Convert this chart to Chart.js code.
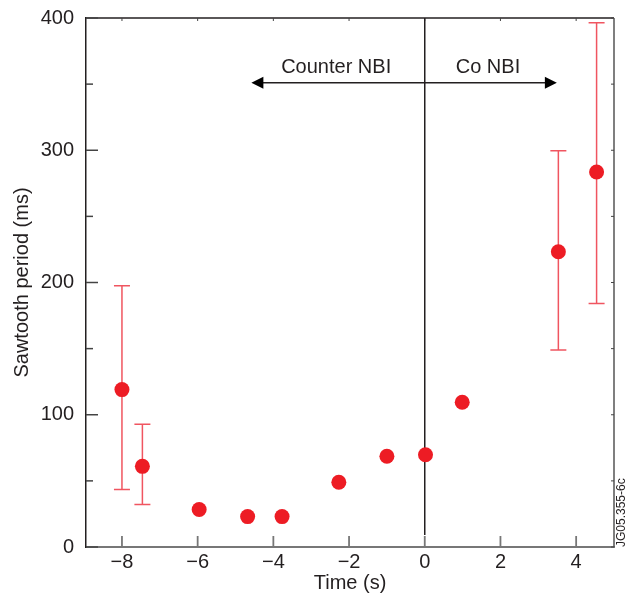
<!DOCTYPE html>
<html>
<head>
<meta charset="utf-8">
<script src="https://cdn.jsdelivr.net/npm/chart.js@4/dist/chart.umd.min.js"></script>
<style>
  html, body { margin: 0; padding: 0; background: #fff; }
  #wrap { width: 629px; height: 603px; }
</style>
</head>
<body>
<div id="wrap"><canvas id="chart" width="629" height="603"></canvas></div>
<script>
// ---- Data ----
const timeS    = [-8.0, -7.46, -5.96, -4.68, -3.77, -2.27, -1.0, 0.02, 0.99, 3.53, 4.54];
const periodMs = [119, 61, 28.4, 23, 23, 49, 68.6, 69.8, 109.5, 223.3, 283.5];
const errLow   = [43.5, 32.2, null, null, null, null, null, null, null, 148.9, 184.2];
const errHigh  = [197.6, 92.8, null, null, null, null, null, null, null, 299.6, 396.4];

// ---- Axes ----
const xTicks = [-8, -6, -4, -2, 0, 2, 4];
const yTicks = [0, 100, 200, 300, 400];
const yMinorTicks = [50, 150, 250, 350];
const X_MIN = -8.95, X_MAX = 5.0;
const Y_MIN = 0, Y_MAX = 400;

// ---- NBI direction annotation (data units) ----
const arrowY = 351;
const arrowFrom = -4.58, arrowTo = 3.49;
const nbiLabels = ["Counter NBI", "Co NBI"];
const nbiLabelX = [-2.34, 1.67];
const nbiLabelY = 362.7;
const figureId = "JG05.355-6c";

// ---- Style ----
const FONT = "'Liberation Sans', Arial, Helvetica, sans-serif";
const TEXT = "#231f20";
const MARKER = "#ed1c24";
const ERR = "#f05560";
const CAP = 8;

const overlay = {
  id: "overlay",
  beforeDatasetsDraw(chart) {
    const { ctx, chartArea: a, scales: { x, y } } = chart;
    ctx.save();

    // frame: top and right sides
    ctx.lineCap = "butt";
    ctx.strokeStyle = "#231f20";
    ctx.lineWidth = 1.5;
    ctx.beginPath();
    ctx.moveTo(a.left, a.top); ctx.lineTo(a.right, a.top);
    ctx.stroke();
    ctx.strokeStyle = "#555";
    ctx.beginPath();
    ctx.moveTo(a.right, a.top); ctx.lineTo(a.right, a.bottom);
    ctx.stroke();

    // inward ticks
    ctx.lineWidth = 1.5;
    ctx.strokeStyle = "#444";
    yTicks.forEach(v => {
      const py = y.getPixelForValue(v);
      ctx.beginPath(); ctx.moveTo(a.left, py); ctx.lineTo(a.left + 12, py); ctx.stroke();
    });
    yMinorTicks.forEach(v => {
      const py = y.getPixelForValue(v);
      ctx.beginPath(); ctx.moveTo(a.left, py); ctx.lineTo(a.left + 7, py); ctx.stroke();
    });
    ctx.lineWidth = 1;
    [...yTicks, ...yMinorTicks].forEach(v => {
      const py = y.getPixelForValue(v);
      ctx.beginPath(); ctx.moveTo(a.right, py); ctx.lineTo(a.right - 3, py); ctx.stroke();
    });
    xTicks.forEach(v => {
      const px = x.getPixelForValue(v);
      ctx.beginPath(); ctx.moveTo(px, a.top); ctx.lineTo(px, a.top + 3); ctx.stroke();
    });
    ctx.lineWidth = 1.8;
    ctx.strokeStyle = "#777";
    xTicks.forEach(v => {
      const px = x.getPixelForValue(v);
      ctx.beginPath(); ctx.moveTo(px, a.bottom); ctx.lineTo(px, a.bottom - 11); ctx.stroke();
    });

    // vertical line at t = 0
    const x0 = x.getPixelForValue(0);
    ctx.strokeStyle = "#231f20";
    ctx.lineWidth = 1.5;
    ctx.beginPath(); ctx.moveTo(x0, a.top); ctx.lineTo(x0, a.bottom - 12); ctx.stroke();

    // NBI arrow
    const ay = y.getPixelForValue(arrowY);
    const ax1 = x.getPixelForValue(arrowFrom), ax2 = x.getPixelForValue(arrowTo);
    ctx.beginPath(); ctx.moveTo(ax1 + 10, ay); ctx.lineTo(ax2 - 10, ay); ctx.stroke();
    ctx.fillStyle = "#000";
    ctx.beginPath();
    ctx.moveTo(ax1, ay); ctx.lineTo(ax1 + 12, ay - 6); ctx.lineTo(ax1 + 12, ay + 6); ctx.closePath();
    ctx.fill();
    ctx.beginPath();
    ctx.moveTo(ax2, ay); ctx.lineTo(ax2 - 12, ay - 6); ctx.lineTo(ax2 - 12, ay + 6); ctx.closePath();
    ctx.fill();

    ctx.fillStyle = TEXT;
    ctx.font = `20px ${FONT}`;
    ctx.textAlign = "center";
    ctx.textBaseline = "middle";
    nbiLabels.forEach((t, i) => {
      ctx.fillText(t, x.getPixelForValue(nbiLabelX[i]), y.getPixelForValue(nbiLabelY));
    });

    // error bars
    ctx.strokeStyle = ERR;
    ctx.lineWidth = 1.5;
    timeS.forEach((t, i) => {
      if (errLow[i] == null) return;
      const px = x.getPixelForValue(t);
      const y1 = y.getPixelForValue(errLow[i]);
      const y2 = y.getPixelForValue(errHigh[i]);
      ctx.beginPath();
      ctx.moveTo(px, y1); ctx.lineTo(px, y2);
      ctx.moveTo(px - CAP, y1); ctx.lineTo(px + CAP, y1);
      ctx.moveTo(px - CAP, y2); ctx.lineTo(px + CAP, y2);
      ctx.stroke();
    });

    // figure id, rotated
    ctx.fillStyle = TEXT;
    ctx.font = `12px ${FONT}`;
    ctx.translate(a.right + 8, a.bottom);
    ctx.rotate(-Math.PI / 2);
    ctx.textAlign = "left";
    ctx.textBaseline = "middle";
    ctx.fillText(figureId, 0, 0);

    ctx.restore();
  },
};

new Chart(document.getElementById("chart"), {
  type: "scatter",
  data: {
    datasets: [{
      data: timeS.map((t, i) => ({ x: t, y: periodMs[i] })),
      backgroundColor: MARKER,
      borderWidth: 0,
      pointRadius: 7.5,
      pointHoverRadius: 7.5,
    }],
  },
  options: {
    responsive: false,
    animation: false,
    events: [],
    layout: { padding: { top: 18, right: 15, left: 0, bottom: 0 } },
    plugins: { legend: { display: false }, tooltip: { enabled: false } },
    scales: {
      x: {
        type: "linear",
        min: X_MIN, max: X_MAX,
        afterBuildTicks: s => { s.ticks = xTicks.map(v => ({ value: v })); },
        afterFit: s => { s.height = 56; },
        grid: { display: false },
        border: { display: true, color: "#777", width: 2 },
        ticks: {
          color: TEXT, padding: -5, font: { family: FONT, size: 20 },
          callback: v => String(v).replace("-", "\u2212"),
        },
        title: { display: true, text: "Time (s)", color: TEXT, font: { family: FONT, size: 20 }, padding: { bottom: 8 } },
      },
      y: {
        min: Y_MIN, max: Y_MAX,
        afterBuildTicks: s => { s.ticks = yTicks.map(v => ({ value: v })); },
        afterFit: s => { s.width = 86; },
        grid: { display: false },
        border: { display: true, color: "#231f20", width: 1.5 },
        ticks: { color: TEXT, padding: 4, font: { family: FONT, size: 20 } },
        title: { display: true, text: "Sawtooth period (ms)", color: TEXT, font: { family: FONT, size: 20 }, padding: { top: 10 } },
      },
    },
  },
  plugins: [overlay],
});
</script>
</body>
</html>
